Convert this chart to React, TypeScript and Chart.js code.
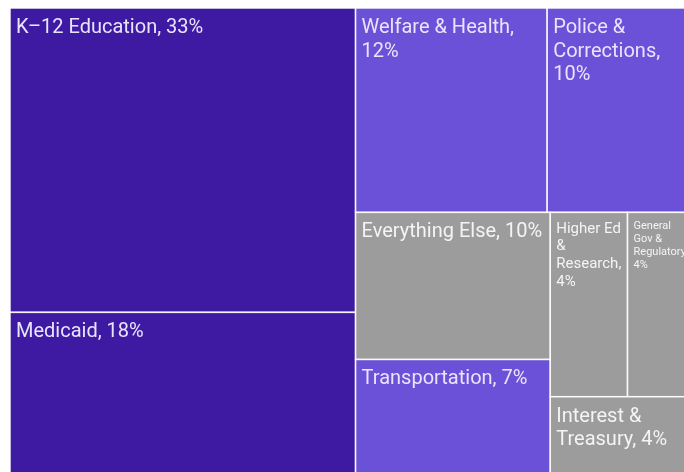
import React, { useEffect, useRef } from "react";
import { Chart, registerables } from "chart.js";

Chart.register(...registerables);

// ---- data ----
const categories = [
  "K\u201312 Education",
  "Medicaid",
  "Welfare & Health",
  "Police & Corrections",
  "Everything Else",
  "Transportation",
  "Higher Ed & Research",
  "General Gov & Regulatory",
  "Interest & Treasury",
];
// percentages printed in the labels
const shareLabels = [33, 18, 12, 10, 10, 7, 4, 4, 4];
// relative cell sizes as they appear in the treemap
const cellSizes = [32.5, 17.9, 12.1, 9.4, 8.85, 7.25, 4.4, 3.9, 3.75];

// ---- styles ----
const DARK = "#3e1aa3";
const LIGHT = "#6b51d7";
const GRAY = "#9c9c9c";
const cellColors = [DARK, DARK, LIGHT, LIGHT, GRAY, LIGHT, GRAY, GRAY, GRAY];

type Cell = { i: number; x0: number; y0: number; x1: number; y1: number };

// d3-style squarified treemap (golden ratio)
function squarify(values: number[], x0: number, y0: number, x1: number, y1: number): Cell[] {
  const ratio = (1 + Math.sqrt(5)) / 2;
  const out: Cell[] = [];
  let value = values.reduce((a, b) => a + b, 0);
  const n = values.length;
  let i0 = 0;
  let i1 = 0;
  while (i0 < n) {
    const dx = x1 - x0;
    const dy = y1 - y0;
    let sumValue = values[i1++];
    let minValue = sumValue;
    let maxValue = sumValue;
    const alpha = Math.max(dy / dx, dx / dy) / (value * ratio);
    let beta = sumValue * sumValue * alpha;
    let minRatio = Math.max(maxValue / beta, beta / minValue);
    for (; i1 < n; ++i1) {
      const nv = values[i1];
      sumValue += nv;
      if (nv < minValue) minValue = nv;
      if (nv > maxValue) maxValue = nv;
      beta = sumValue * sumValue * alpha;
      const newRatio = Math.max(maxValue / beta, beta / minValue);
      if (newRatio > minRatio) {
        sumValue -= nv;
        break;
      }
      minRatio = newRatio;
    }
    if (dx < dy) {
      const yEnd = i1 >= n ? y1 : y0 + (dy * sumValue) / value;
      const k = dx / sumValue;
      let x = x0;
      for (let j = i0; j < i1; j++) {
        const w = values[j] * k;
        out.push({ i: j, x0: x, y0: y0, x1: j === i1 - 1 ? x1 : x + w, y1: yEnd });
        x += w;
      }
      y0 = yEnd;
    } else {
      const xEnd = i1 >= n ? x1 : x0 + (dx * sumValue) / value;
      const k = dy / sumValue;
      let y = y0;
      for (let j = i0; j < i1; j++) {
        const h = values[j] * k;
        out.push({ i: j, x0: x0, y0: y, x1: xEnd, y1: j === i1 - 1 ? y1 : y + h });
        y += h;
      }
      x0 = xEnd;
    }
    value -= sumValue;
    i0 = i1;
  }
  return out;
}

const FONT_FAMILY = "Roboto, 'Noto Sans', sans-serif";
const MAX_FONT = 20;
const PAD = 6;

const treemapPlugin = {
  id: "treemapCells",
  afterDatasetsDraw(chart: any) {
    const { ctx, chartArea, scales } = chart;
    const xs = scales.x;
    const ys = scales.y;
    const W = chartArea.right - chartArea.left;
    const H = chartArea.bottom - chartArea.top;
    const cells = squarify(cellSizes, 0, 0, W, H);
    ctx.save();
    for (const c of cells) {
      const left = xs.getPixelForValue(c.x0 / W);
      const right = xs.getPixelForValue(c.x1 / W);
      const top = ys.getPixelForValue(c.y0 / H);
      const bottom = ys.getPixelForValue(c.y1 / H);
      const w = right - left;
      const h = bottom - top;
      ctx.fillStyle = cellColors[c.i];
      ctx.fillRect(left, top, w, h);
      ctx.strokeStyle = "rgba(255,255,255,0.92)";
      ctx.lineWidth = 1.5;
      ctx.strokeRect(left, top, w, h);

      // label
      const label = `${categories[c.i]}, ${shareLabels[c.i]}%`;
      const words = label.split(" ");
      const avail = w - 2 * PAD;
      ctx.font = `400 ${MAX_FONT}px ${FONT_FAMILY}`;
      const longest = Math.max(...words.map((wd) => ctx.measureText(wd).width));
      let fs = MAX_FONT;
      if (longest > avail) fs = Math.floor((MAX_FONT * avail) / longest);
      ctx.font = `400 ${fs}px ${FONT_FAMILY}`;
      const lines: string[] = [];
      let cur = "";
      for (const wd of words) {
        const test = cur ? cur + " " + wd : wd;
        if (cur && ctx.measureText(test).width > avail) {
          lines.push(cur);
          cur = wd;
        } else {
          cur = test;
        }
      }
      if (cur) lines.push(cur);
      const lh = fs * 1.18;
      ctx.save();
      ctx.beginPath();
      ctx.rect(left, top, w, h);
      ctx.clip();
      ctx.fillStyle = cellColors[c.i] === GRAY ? "#f4f4f4" : "#e9e4fb";
      ctx.textBaseline = "alphabetic";
      ctx.textAlign = "left";
      let y = top + PAD + fs * 0.95;
      for (const ln of lines) {
        ctx.fillText(ln, left + PAD, Math.round(y));
        y += lh;
      }
      ctx.restore();
    }
    ctx.restore();
  },
};

export default function App() {
  const ref = useRef<HTMLCanvasElement | null>(null);
  useEffect(() => {
    let chart: Chart | null = null;
    let cancelled = false;
    const make = () => {
      if (cancelled || !ref.current) return;
      chart = new Chart(ref.current, {
        type: "scatter",
        data: { datasets: [{ data: [] }] },
        options: {
          animation: false,
          responsive: false,
          devicePixelRatio: 1,
          layout: { padding: 0 },
          plugins: { legend: { display: false }, tooltip: { enabled: false } },
          scales: {
            x: { type: "linear", min: 0, max: 1, display: false },
            y: { type: "linear", min: 0, max: 1, reverse: true, display: false },
          },
        },
        plugins: [treemapPlugin],
      } as any);
    };
    const fonts = (document as any).fonts;
    if (fonts && fonts.load) {
      fonts.load(`20px Roboto`).then(make, make);
    } else {
      make();
    }
    return () => {
      cancelled = true;
      if (chart) chart.destroy();
    };
  }, []);
  return (
    <div
      style={{
        position: "fixed",
        left: 0,
        top: 0,
        width: 684,
        height: 472,
        overflow: "hidden",
        background: "#fff",
      }}
    >
      <canvas
        ref={ref}
        width={686}
        height={472}
        style={{ position: "absolute", left: 10, top: 8, width: 686, height: 472 }}
      />
    </div>
  );
}
